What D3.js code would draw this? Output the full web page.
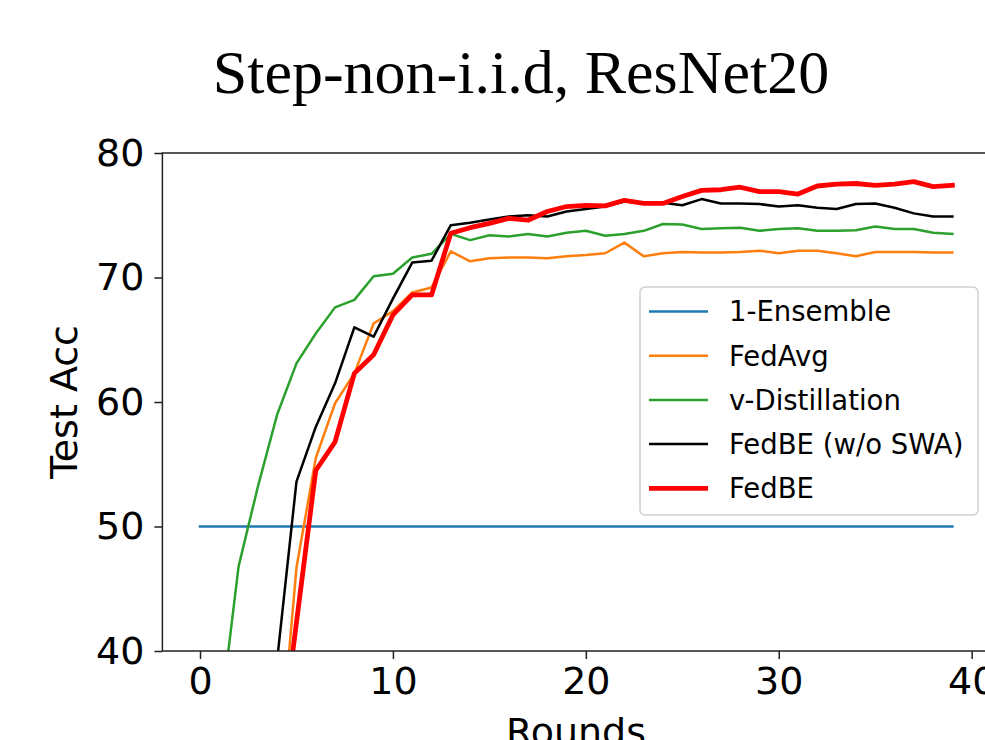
<!DOCTYPE html>
<html lang="en">
<head>
    <meta charset="UTF-8">
    <title>Step-non-i.i.d, ResNet20</title>
    <script src="https://d3js.org/d3.v7.min.js"></script>
    <style>
        body{margin: 0; background: #fff;}
        .tick text{font-family: 'DejaVu Sans', sans-serif; fill: #000;}
    </style>
</head>
<body>
    <div id="plot"></div>

    <script>
        function translate(x, y){
            return 'translate(' + x + ', ' + y + ')';
        }

        // rounds 0..39
        let rounds = d3.range(0, 40);
        let ensemble = rounds.map(() => 50);
        let fedAvg = [10, 12, 15, 20, 29, 46.7, 55.5, 59.9, 62.3, 66.3,
                      67.3, 68.8, 69.2, 72.1, 71.3, 71.55, 71.6, 71.6, 71.55, 71.7,
                      71.8, 71.95, 72.8, 71.7, 71.95, 72.05, 72.0, 72.0, 72.05, 72.15,
                      71.95, 72.15, 72.15, 71.95, 71.7, 72.05, 72.05, 72.05, 72.0, 72.0];
        let vDistill = [20, 34, 46.8, 53.2, 59.0, 63.1, 65.5, 67.6, 68.2, 70.1,
                        70.3, 71.6, 71.9, 73.5, 73.0, 73.4, 73.3, 73.5, 73.3, 73.6,
                        73.75, 73.35, 73.5, 73.75, 74.3, 74.25, 73.9, 73.95, 74.0, 73.75,
                        73.9, 73.95, 73.75, 73.75, 73.8, 74.1, 73.9, 73.9, 73.6, 73.5];
        let fedBEnoSWA = [10, 14, 20, 27, 39.3, 53.6, 58.0, 61.5, 66.0, 65.25,
                          68.3, 71.2, 71.35, 74.2, 74.4, 74.65, 74.9, 75.0, 74.9, 75.3,
                          75.5, 75.7, 76.1, 76.0, 76.0, 75.8, 76.3, 75.95, 75.95, 75.9,
                          75.7, 75.8, 75.6, 75.5, 75.9, 75.95, 75.6, 75.15, 74.9, 74.9];
        let fedBE = [10, 12, 15, 22, 30, 42.3, 54.5, 56.8, 62.3, 63.8,
                     67.0, 68.6, 68.6, 73.55, 74.0, 74.35, 74.75, 74.6, 75.3, 75.7,
                     75.8, 75.75, 76.2, 75.95, 75.95, 76.5, 77.0, 77.05, 77.25, 76.9,
                     76.9, 76.7, 77.35, 77.5, 77.55, 77.4, 77.5, 77.7, 77.3, 77.4];

        let seriesNames = ['1-Ensemble', 'FedAvg', 'v-Distillation', 'FedBE (w/o SWA)', 'FedBE'];
        let seriesValues = [ensemble, fedAvg, vDistill, fedBEnoSWA, fedBE];
        let seriesColors = ['#1f77b4', '#ff7f0e', '#2ca02c', '#000000', '#ff0000'];
        let seriesWidths = [2.5, 2.5, 2.5, 2.5, 4.8];
        let xTicks = [0, 10, 20, 30, 40];
        let yTicks = [40, 50, 60, 70, 80];

        let svgWidth = 985;
        let svgHeight = 740;
        let plot = {left: 162.4, right: 990, top: 153, bottom: 651};

        let svg = d3.select('#plot')
                    .append('svg')
                        .attr('width', svgWidth)
                        .attr('height', svgHeight);

        let x = d3.scaleLinear()
                    .domain([-1.95, 40.95])
                    .range([plot.left, plot.right]);
        let y = d3.scaleLinear()
                    .domain([40, 80])
                    .range([plot.bottom, plot.top]);

        svg.append('clipPath')
            .attr('id', 'clip')
            .append('rect')
                .attr('x', plot.left)
                .attr('y', plot.top)
                .attr('width', plot.right - plot.left)
                .attr('height', plot.bottom - plot.top);

        // title
        svg.append('text')
            .attr('x', 521)
            .attr('y', 93)
            .attr('text-anchor', 'middle')
            .style('font-family', "'Liberation Serif', 'Times New Roman', serif")
            .style('font-size', '62px')
            .text('Step-non-i.i.d, ResNet20');

        // lines
        let line = d3.line()
                        .x((d, i) => x(rounds[i]))
                        .y(d => y(d));

        svg.append('g')
            .attr('clip-path', 'url(#clip)')
            .selectAll('path')
            .data(seriesValues)
            .join('path')
                .attr('d', d => line(d))
                .attr('fill', 'none')
                .attr('stroke', (d, i) => seriesColors[i])
                .attr('stroke-width', (d, i) => seriesWidths[i])
                .attr('stroke-linejoin', 'round')
                .attr('stroke-linecap', 'square');

        // axes
        let xAxis = d3.axisBottom(x).tickValues(xTicks).tickSize(8).tickSizeOuter(0).tickPadding(8);
        let yAxis = d3.axisLeft(y).tickValues(yTicks).tickSize(8).tickSizeOuter(0).tickPadding(10);

        let gx = svg.append('g')
            .attr('transform', translate(0, plot.bottom))
            .call(xAxis);
        let gy = svg.append('g')
            .attr('transform', translate(plot.left, 0))
            .call(yAxis);

        [gx, gy].forEach(function(g){
            g.select('.domain').remove();
            g.selectAll('.tick line').attr('stroke', '#222').attr('stroke-width', 1.5);
            g.selectAll('.tick text').style('font-size', '38px');
        });

        // spines
        svg.append('rect')
            .attr('x', plot.left)
            .attr('y', plot.top)
            .attr('width', plot.right - plot.left)
            .attr('height', plot.bottom - plot.top)
            .attr('fill', 'none')
            .attr('stroke', '#222')
            .attr('stroke-width', 1.5);

        // axis labels
        svg.append('text')
            .attr('transform', translate(77, 402) + ' rotate(-90)')
            .attr('text-anchor', 'middle')
            .style('font-family', "'DejaVu Sans', sans-serif")
            .style('font-size', '38px')
            .text('Test Acc');

        svg.append('text')
            .attr('x', 576)
            .attr('y', 745)
            .attr('text-anchor', 'middle')
            .style('font-family', "'DejaVu Sans', sans-serif")
            .style('font-size', '38px')
            .text('Rounds');

        // legend
        let legend = svg.append('g').attr('transform', translate(640, 287));
        legend.append('rect')
            .attr('width', 338)
            .attr('height', 228)
            .attr('rx', 5)
            .attr('fill', 'rgba(255,255,255,0.8)')
            .attr('stroke', '#d0d0d0')
            .attr('stroke-width', 1.5);

        let rows = legend.selectAll('g.row')
            .data(seriesNames)
            .join('g')
                .attr('class', 'row')
                .attr('transform', (d, i) => translate(0, 24.5 + i * 44.2));

        rows.append('line')
            .attr('x1', 9)
            .attr('x2', 68)
            .attr('stroke', (d, i) => seriesColors[i])
            .attr('stroke-width', (d, i) => seriesWidths[i]);

        rows.append('text')
            .attr('x', 89)
            .attr('dy', '0.36em')
            .style('font-family', "'DejaVu Sans', sans-serif")
            .style('font-size', '27.5px')
            .style('fill', '#000')
            .text(d => d);
    </script>
</body>
</html>
